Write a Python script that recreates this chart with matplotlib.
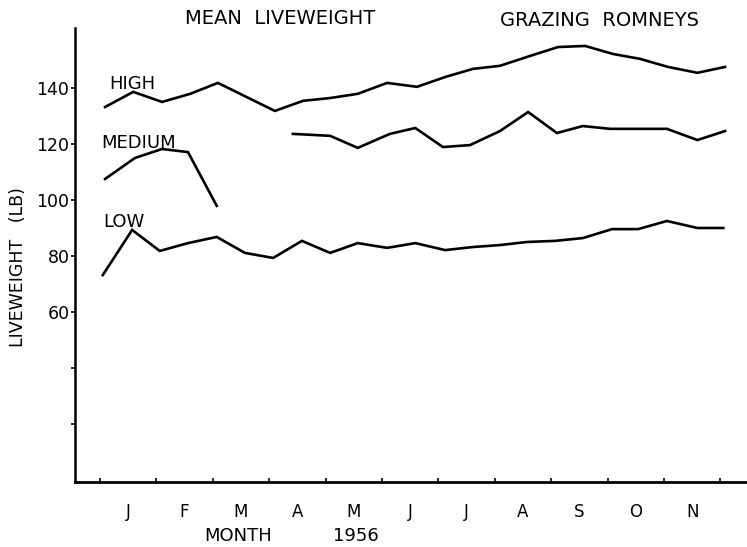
import matplotlib
matplotlib.use("Agg")
import matplotlib.pyplot as plt

# Posição das amostras em meses (0 = início de janeiro de 1956)
high_x = [0.09, 0.59, 1.10, 1.60, 2.09, 3.10, 3.60, 4.08, 4.57, 5.09, 5.62,
          6.12, 6.61, 7.09, 7.62, 8.12, 8.60, 9.10, 9.57, 10.07, 10.59, 11.08]
high_y = [133.2, 138.6, 135.0, 137.9, 141.8, 131.8, 135.4, 136.4, 137.9, 141.8, 140.4,
          143.9, 146.8, 147.9, 151.4, 154.6, 155.0, 152.1, 150.4, 147.5, 145.4, 147.5]

# Grupo "medium" tem um intervalo sem dados em março/abril
med1_x = [0.09, 0.62, 1.10, 1.56, 2.07]
med1_y = [107.5, 115.0, 118.2, 117.1, 97.9]
med2_x = [3.42, 4.08, 4.57, 5.14, 5.59, 6.08, 6.56, 7.09, 7.59, 8.10, 8.56,
          9.04, 9.57, 10.05, 10.59, 11.08]
med2_y = [123.6, 122.9, 118.6, 123.6, 125.7, 118.9, 119.6, 124.6, 131.4, 123.9, 126.4,
          125.4, 125.4, 125.4, 121.4, 124.6]

low_x = [0.05, 0.57, 1.06, 1.56, 2.07, 2.57, 3.07, 3.58, 4.08, 4.57, 5.09, 5.59,
         6.12, 6.61, 7.09, 7.57, 8.07, 8.56, 9.08, 9.54, 10.05, 10.59, 11.05]
low_y = [73.2, 89.3, 81.8, 84.6, 86.8, 81.1, 79.3, 85.4, 81.1, 84.6, 82.9, 84.6,
         82.1, 83.2, 83.9, 85.0, 85.4, 86.4, 89.6, 89.6, 92.5, 90.0, 90.0]

meses = ["J", "F", "M", "A", "M", "J", "J", "A", "S", "O", "N"]
y_ticks = [20, 40, 60, 80, 100, 120, 140]
y_labels = ["", "", "60", "80", "100", "120", "140"]

plt.rcParams["font.family"] = "DejaVu Sans"

fig = plt.figure(figsize=(7.47, 5.47), dpi=100)
ax = fig.add_axes([0.1004, 0.1188, 0.8996, 0.830])

for xs, ys in [(high_x, high_y), (med1_x, med1_y), (med2_x, med2_y), (low_x, low_y)]:
    ax.plot(xs, ys, color="black", lw=1.9, solid_joinstyle="miter")

ax.set_xlim(-0.443, 11.47)
ax.set_ylim(-0.7, 161.4)

# Eixos: só esquerdo e inferior
for lado in ["top", "right"]:
    ax.spines[lado].set_visible(False)
ax.spines["left"].set_linewidth(1.8)
ax.spines["bottom"].set_linewidth(2.0)

ax.set_yticks(y_ticks)
ax.set_yticklabels(y_labels, fontsize=12.5)
ax.tick_params(axis="y", direction="out", length=3, width=1.2, pad=1)

ax.set_xticks(range(12))
ax.set_xticklabels([])
ax.tick_params(axis="x", which="major", direction="in", length=3, width=1.2)
ax.set_xticks([m + 0.5 for m in range(len(meses))], minor=True)
ax.set_xticklabels(meses, minor=True, fontsize=12)
ax.tick_params(axis="x", which="minor", length=0, pad=15)

# Rótulos das curvas
ax.text(0.57, 141.5, "HIGH", fontsize=13, ha="center", va="center")
ax.text(0.69, 120.2, "MEDIUM", fontsize=13, ha="center", va="center")
ax.text(0.43, 92.3, "LOW", fontsize=13, ha="center", va="center")

# Títulos e rótulos dos eixos
fig.text(280 / 747, 1 - 18 / 547, "MEAN  LIVEWEIGHT", fontsize=14, ha="center", va="center")
fig.text(599 / 747, 1 - 20 / 547, "GRAZING  ROMNEYS", fontsize=14, ha="center", va="center")
fig.text(18 / 747, 1 - 267 / 547, "LIVEWEIGHT   (LB)", fontsize=12.5, rotation=90,
         ha="center", va="center")
fig.text(238 / 747, 1 - 536 / 547, "MONTH", fontsize=13, ha="center", va="center")
fig.text(356 / 747, 1 - 536 / 547, "1956", fontsize=13, ha="center", va="center")

fig.savefig("out.png", dpi=100)
